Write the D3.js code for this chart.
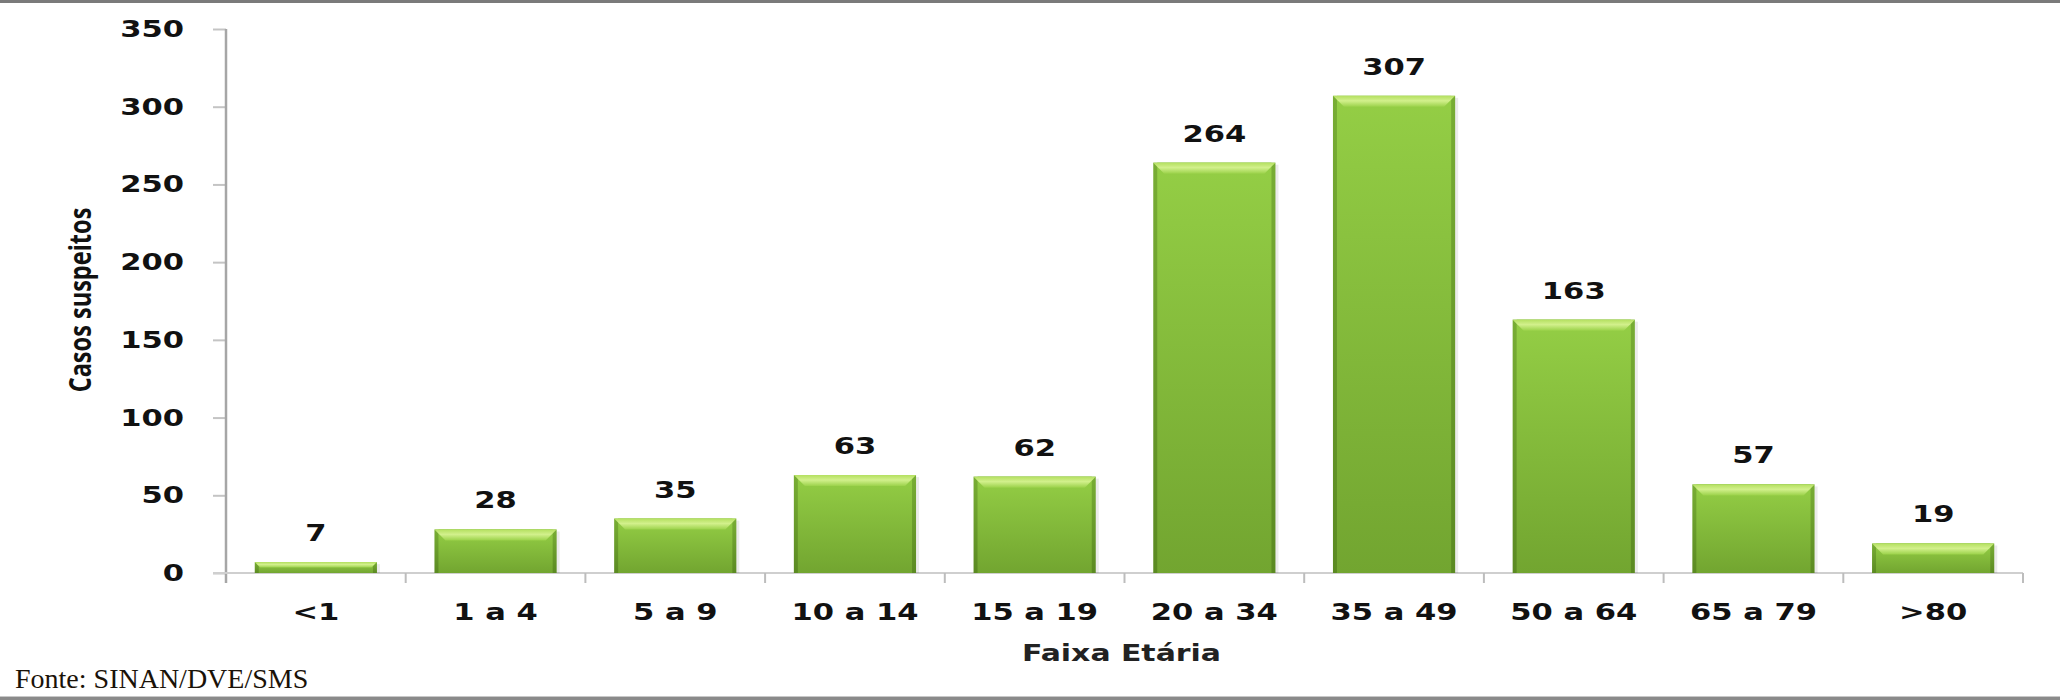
<!DOCTYPE html>
<html>
<head>
<meta charset="utf-8">
<script src="https://cdn.jsdelivr.net/npm/d3@7"></script>
<style>
  html, body { margin: 0; padding: 0; background: #fff; }
  svg { display: block; }
</style>
</head>
<body>
<script>
// dados
const categories = ["<1", "1 a 4", "5 a 9", "10 a 14", "15 a 19", "20 a 34", "35 a 49", "50 a 64", "65 a 79", ">80"];
const values = [7, 28, 35, 63, 62, 264, 307, 163, 57, 19];
const yTicks = [0, 50, 100, 150, 200, 250, 300, 350];

const width = 2060, height = 700;
const margin = { top: 29, right: 37, bottom: 127, left: 226 };
const chartW = width - margin.left - margin.right;
const chartH = height - margin.top - margin.bottom;
const stretch = 1.33; // o texto original está esticado na horizontal
const boldFont = "'DejaVu Sans', Verdana, sans-serif";

const svg = d3.select("body").append("svg").attr("width", width).attr("height", height);

// gradientes das barras
const defs = svg.append("defs");
const gBody = defs.append("linearGradient").attr("id", "barBody").attr("x1", 0).attr("y1", 0).attr("x2", 0).attr("y2", 1);
gBody.append("stop").attr("offset", "0%").attr("stop-color", "#94ce45");
gBody.append("stop").attr("offset", "100%").attr("stop-color", "#72a530");
const gEdge = defs.append("linearGradient").attr("id", "barEdge").attr("x1", 0).attr("y1", 0).attr("x2", 0).attr("y2", 1);
gEdge.append("stop").attr("offset", "0%").attr("stop-color", "#78ad34");
gEdge.append("stop").attr("offset", "100%").attr("stop-color", "#5b8a22");
const gTop = defs.append("linearGradient").attr("id", "barTop").attr("x1", 0).attr("y1", 0).attr("x2", 0).attr("y2", 1);
gTop.append("stop").attr("offset", "0%").attr("stop-color", "#b4e060");
gTop.append("stop").attr("offset", "45%").attr("stop-color", "#d2f08c");
gTop.append("stop").attr("offset", "100%").attr("stop-color", "#9bd24a");

// bordas cinzentas em cima e em baixo
svg.append("rect").attr("x", 0).attr("y", 0).attr("width", width).attr("height", 3).attr("fill", "#7a7a7a");
svg.append("rect").attr("x", 0).attr("y", height - 4).attr("width", width).attr("height", 1).attr("fill", "#c8c8c8");
svg.append("rect").attr("x", 0).attr("y", height - 3).attr("width", width).attr("height", 3).attr("fill", "#8a8a8a");

const g = svg.append("g").attr("transform", `translate(${margin.left},${margin.top})`);

const x = d3.scaleBand().domain(categories).range([0, chartW]).paddingInner(0.32).paddingOuter(0.16);
const y = d3.scaleLinear().domain([0, 350]).range([chartH, 0]);

// eixo y
const yAxis = g.append("g").call(d3.axisLeft(y).tickValues(yTicks).tickSize(13).tickFormat(""));
yAxis.select(".domain").remove();
yAxis.selectAll(".tick line").attr("stroke", "#c4c4c4").attr("stroke-width", 2);
g.append("line").attr("x1", 0).attr("x2", 0).attr("y1", y(350)).attr("y2", chartH + 10)
  .attr("stroke", "#a6a6a6").attr("stroke-width", 2.5);

g.selectAll(".ylab").data(yTicks).enter().append("text")
  .attr("class", "ylab")
  .attr("transform", (d) => `translate(-42,${y(d) + 8}) scale(${stretch},1)`)
  .attr("text-anchor", "end")
  .style("font-family", boldFont).style("font-weight", "bold").style("font-size", "23px")
  .attr("fill", "#111")
  .text((d) => d);

// eixo x
g.append("line").attr("x1", -13).attr("x2", chartW).attr("y1", chartH).attr("y2", chartH)
  .attr("stroke", "#cfcfcf").attr("stroke-width", 2);
const step = x.step();
const bounds = d3.range(1, categories.length + 1).map((i) => i * step);
g.selectAll(".xtick").data(bounds).enter().append("line")
  .attr("class", "xtick")
  .attr("x1", (d) => d).attr("x2", (d) => d)
  .attr("y1", chartH).attr("y2", chartH + 10)
  .attr("stroke", "#bdbdbd").attr("stroke-width", 2);

g.selectAll(".xlab").data(categories).enter().append("text")
  .attr("class", "xlab")
  .attr("transform", (d) => `translate(${x(d) + x.bandwidth() / 2},${chartH + 47}) scale(${stretch},1)`)
  .attr("text-anchor", "middle")
  .style("font-family", boldFont).style("font-weight", "bold").style("font-size", "23px")
  .attr("fill", "#111")
  .text((d) => d);

// barras
const data = categories.map((c, i) => ({ key: c, value: values[i] }));
const bars = g.selectAll(".bar").data(data).enter().append("g").attr("class", "bar");
const bw = x.bandwidth();
const edge = 4;

bars.append("rect")
  .attr("x", (d) => x(d.key) + 3).attr("y", (d) => y(d.value) + 2)
  .attr("width", bw).attr("height", (d) => chartH - y(d.value) - 2)
  .attr("fill", "#000").attr("opacity", 0.08);
bars.append("rect")
  .attr("x", (d) => x(d.key)).attr("y", (d) => y(d.value))
  .attr("width", bw).attr("height", (d) => chartH - y(d.value))
  .attr("fill", "url(#barEdge)");
bars.append("rect")
  .attr("x", (d) => x(d.key) + edge).attr("y", (d) => y(d.value))
  .attr("width", bw - 2 * edge).attr("height", (d) => chartH - y(d.value))
  .attr("fill", "url(#barBody)");
// chanfro superior
bars.append("path")
  .attr("d", (d) => {
    const x0 = x(d.key), x1 = x0 + bw, y0 = y(d.value);
    const h = Math.min(11, (chartH - y0) / 2);
    return `M${x0},${y0}L${x1},${y0}L${x1 - h},${y0 + h}L${x0 + h},${y0 + h}Z`;
  })
  .attr("fill", "url(#barTop)");

// rótulos de valor
bars.append("text")
  .attr("transform", (d) => `translate(${x(d.key) + bw / 2},${y(d.value) - 21}) scale(${stretch},1)`)
  .attr("text-anchor", "middle")
  .style("font-family", boldFont).style("font-weight", "bold").style("font-size", "23px")
  .attr("fill", "#111")
  .text((d) => d.value);

// títulos dos eixos
svg.append("text")
  .attr("transform", `translate(${margin.left + chartW / 2 - 3},661) scale(1.3,1)`)
  .attr("text-anchor", "middle")
  .style("font-family", boldFont).style("font-weight", "bold").style("font-size", "23px")
  .attr("fill", "#222")
  .text("Faixa Etária");

svg.append("text")
  .attr("transform", "translate(91,300) rotate(-90) scale(0.76,1)")
  .attr("text-anchor", "middle")
  .style("font-family", "'Open Sans', 'Liberation Sans', sans-serif").style("font-weight", "bold").style("font-size", "31px")
  .attr("fill", "#111")
  .text("Casos suspeitos");

svg.append("text")
  .attr("x", 15).attr("y", 688)
  .style("font-family", "'Liberation Serif', 'Times New Roman', serif").style("font-size", "28px")
  .attr("fill", "#1a1208")
  .text("Fonte: SINAN/DVE/SMS");
</script>
</body>
</html>
